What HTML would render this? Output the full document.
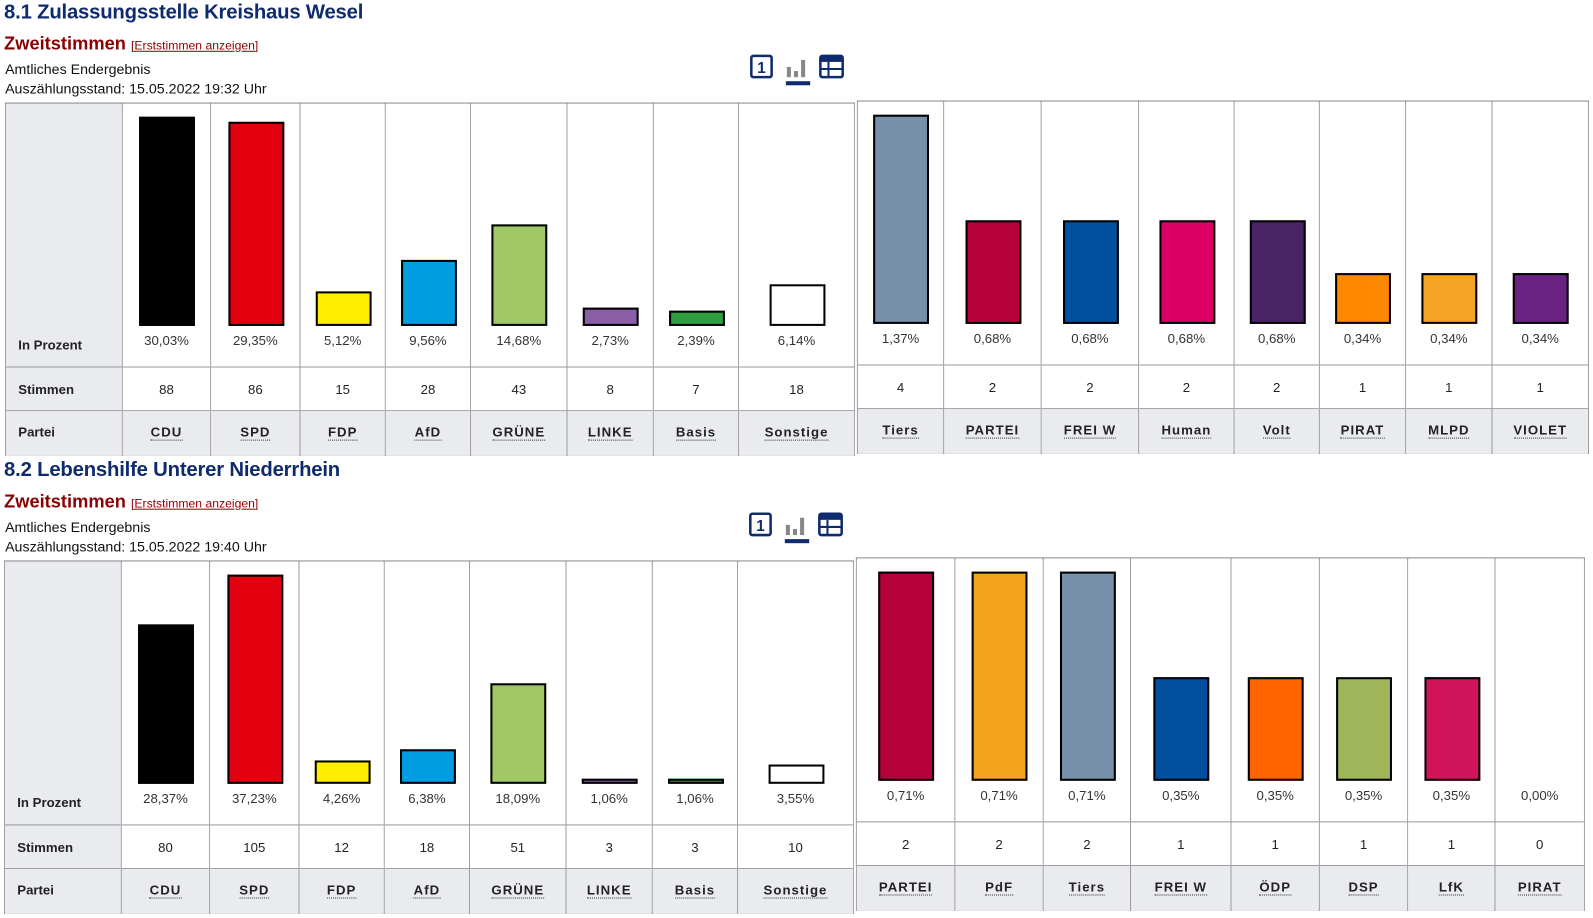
<!DOCTYPE html>
<html><head><meta charset="utf-8"><style>
*{margin:0;padding:0;box-sizing:border-box}
body{width:1593px;height:918px;background:#fff;position:relative;font-family:"Liberation Sans",Arial,sans-serif;overflow:hidden}
#w{position:absolute;left:0;top:0;width:1569px;height:904px;transform:scale(1.0153);transform-origin:0 0}
.a{position:absolute;white-space:nowrap}
h1{position:absolute;font-size:20px;font-weight:bold;color:#0f2b6e;left:4px;letter-spacing:-0.2px}
.zw{position:absolute;left:4px;font-size:18px;font-weight:bold;color:#8b0000}
.zw a{font-size:12px;font-weight:normal;color:#8b0000;text-decoration:underline}
.t{position:absolute;left:5px;font-size:14px;color:#111}
.c{position:absolute;border-left:1px solid #999;height:347px}
.c.f{border-left:none}
.p{position:relative;height:260px;border-bottom:1px solid #999;background:#fff}
.s{height:43px;line-height:43px;text-align:center;font-size:13px;color:#222;border-bottom:1px solid #999;background:#fff}
.n{height:44px;line-height:42px;text-align:center;font-size:13px;font-weight:bold;color:#222;background:#e9ebee;letter-spacing:1px}
.n span{border-bottom:1px dotted #333;padding-bottom:0}
.b{position:absolute;left:50%;margin-left:-27px;width:55px;border:2px solid #000}
.pc{position:absolute;left:0;right:0;text-align:center;top:226px;font-size:13px;color:#333}
.lab .p,.lab .s{background:#e9ebee}
.lab .p,.lab .s,.lab .n{text-align:left;padding-left:12px;font-weight:bold;font-size:13px;color:#222;letter-spacing:0}
.lab .p span{position:absolute;left:12px;top:230px}
.fr{position:absolute;border:1px solid #999;border-top:2px solid #888;height:348px}
</style></head><body><div id="w">

<h1 style="top:1px">8.1 Zulassungsstelle Kreishaus Wesel</h1>
<div class="zw" style="top:33px">Zweitstimmen <a>[Erststimmen anzeigen]</a></div>
<div class="t" style="top:60px">Amtliches Endergebnis</div>
<div class="t" style="top:79px">Auszählungsstand: 15.05.2022 19:32 Uhr</div>
<svg class="a" style="left:738px;top:53px" width="96" height="34">
<rect x="2" y="2" width="20" height="21" rx="2" fill="none" stroke="#0f2b6e" stroke-width="2.5"/><text x="12" y="19" font-size="15" font-weight="bold" text-anchor="middle" fill="#0f2b6e" font-family="Liberation Sans">1</text>
<rect x="37" y="13" width="4" height="10" fill="#888"/><rect x="44" y="17" width="4" height="6" fill="#888"/><rect x="51" y="6" width="4" height="17" fill="#888"/>
<rect x="36" y="27" width="24" height="4" fill="#0f2b6e"/>
<rect x="70" y="2" width="22" height="21" rx="2" fill="#fff" stroke="#0f2b6e" stroke-width="2.5"/><rect x="70" y="2" width="22" height="6" fill="#0f2b6e"/><line x1="70" y1="15" x2="92" y2="15" stroke="#0f2b6e" stroke-width="2"/><line x1="78" y1="8" x2="78" y2="23" stroke="#0f2b6e" stroke-width="2"/>
</svg>

<div class="fr" style="left:5px;top:101px;width:837px"></div>
<div class="c f lab" style="left:6px;top:102px;width:114px"><div class="p"><span>In Prozent</span></div><div class="s">Stimmen</div><div class="n">Partei</div></div>
<div class="c" style="left:120px;top:102px;width:87px"><div class="p"><div class="b" style="top:13px;height:206px;background:#000"></div><div class="pc">30,03%</div></div><div class="s">88</div><div class="n"><span>CDU</span></div></div>
<div class="c" style="left:207px;top:102px;width:88px"><div class="p"><div class="b" style="top:18px;height:201px;background:#e3000f"></div><div class="pc">29,35%</div></div><div class="s">86</div><div class="n"><span>SPD</span></div></div>
<div class="c" style="left:295px;top:102px;width:84px"><div class="p"><div class="b" style="top:185px;height:34px;background:#ffed00"></div><div class="pc">5,12%</div></div><div class="s">15</div><div class="n"><span>FDP</span></div></div>
<div class="c" style="left:379px;top:102px;width:84px"><div class="p"><div class="b" style="top:154px;height:65px;background:#009ee0"></div><div class="pc">9,56%</div></div><div class="s">28</div><div class="n"><span>AfD</span></div></div>
<div class="c" style="left:463px;top:102px;width:95px"><div class="p"><div class="b" style="top:119px;height:100px;background:#a0c864"></div><div class="pc">14,68%</div></div><div class="s">43</div><div class="n"><span>GRÜNE</span></div></div>
<div class="c" style="left:558px;top:102px;width:85px"><div class="p"><div class="b" style="top:201px;height:18px;background:#8b5ea8"></div><div class="pc">2,73%</div></div><div class="s">8</div><div class="n"><span>LINKE</span></div></div>
<div class="c" style="left:643px;top:102px;width:84px"><div class="p"><div class="b" style="top:204px;height:15px;background:#2e9e3e"></div><div class="pc">2,39%</div></div><div class="s">7</div><div class="n"><span>Basis</span></div></div>
<div class="c" style="left:727px;top:102px;width:114px"><div class="p"><div class="b" style="top:178px;height:41px;background:#fff"></div><div class="pc">6,14%</div></div><div class="s">18</div><div class="n"><span>Sonstige</span></div></div>

<div class="fr" style="left:844px;top:99px;width:721px"></div>
<div class="c f" style="left:845px;top:100px;width:84px"><div class="p"><div class="b" style="top:13px;height:206px;background:#7690aa"></div><div class="pc">1,37%</div></div><div class="s">4</div><div class="n"><span>Tiers</span></div></div>
<div class="c" style="left:929px;top:100px;width:96px"><div class="p"><div class="b" style="top:117px;height:102px;background:#b5003a"></div><div class="pc">0,68%</div></div><div class="s">2</div><div class="n"><span>PARTEI</span></div></div>
<div class="c" style="left:1025px;top:100px;width:96px"><div class="p"><div class="b" style="top:117px;height:102px;background:#0050a0"></div><div class="pc">0,68%</div></div><div class="s">2</div><div class="n"><span>FREI W</span></div></div>
<div class="c" style="left:1121px;top:100px;width:94px"><div class="p"><div class="b" style="top:117px;height:102px;background:#dc0064"></div><div class="pc">0,68%</div></div><div class="s">2</div><div class="n"><span>Human</span></div></div>
<div class="c" style="left:1215px;top:100px;width:84px"><div class="p"><div class="b" style="top:117px;height:102px;background:#4a2367"></div><div class="pc">0,68%</div></div><div class="s">2</div><div class="n"><span>Volt</span></div></div>
<div class="c" style="left:1299px;top:100px;width:85px"><div class="p"><div class="b" style="top:169px;height:50px;background:#ff8800"></div><div class="pc">0,34%</div></div><div class="s">1</div><div class="n"><span>PIRAT</span></div></div>
<div class="c" style="left:1384px;top:100px;width:85px"><div class="p"><div class="b" style="top:169px;height:50px;background:#f4a425"></div><div class="pc">0,34%</div></div><div class="s">1</div><div class="n"><span>MLPD</span></div></div>
<div class="c" style="left:1469px;top:100px;width:95px"><div class="p"><div class="b" style="top:169px;height:50px;background:#6a2382"></div><div class="pc">0,34%</div></div><div class="s">1</div><div class="n"><span>VIOLET</span></div></div>

<h1 style="top:452px">8.2 Lebenshilfe Unterer Niederrhein</h1>
<div class="zw" style="top:484px">Zweitstimmen <a>[Erststimmen anzeigen]</a></div>
<div class="t" style="top:511px">Amtliches Endergebnis</div>
<div class="t" style="top:530px">Auszählungsstand: 15.05.2022 19:40 Uhr</div>
<svg class="a" style="left:737px;top:504px" width="96" height="34">
<rect x="2" y="2" width="20" height="21" rx="2" fill="none" stroke="#0f2b6e" stroke-width="2.5"/><text x="12" y="19" font-size="15" font-weight="bold" text-anchor="middle" fill="#0f2b6e" font-family="Liberation Sans">1</text>
<rect x="37" y="13" width="4" height="10" fill="#888"/><rect x="44" y="17" width="4" height="6" fill="#888"/><rect x="51" y="6" width="4" height="17" fill="#888"/>
<rect x="36" y="27" width="24" height="4" fill="#0f2b6e"/>
<rect x="70" y="2" width="22" height="21" rx="2" fill="#fff" stroke="#0f2b6e" stroke-width="2.5"/><rect x="70" y="2" width="22" height="6" fill="#0f2b6e"/><line x1="70" y1="15" x2="92" y2="15" stroke="#0f2b6e" stroke-width="2"/><line x1="78" y1="8" x2="78" y2="23" stroke="#0f2b6e" stroke-width="2"/>
</svg>

<div class="fr" style="left:4px;top:552px;width:837px"></div>
<div class="c f lab" style="left:5px;top:553px;width:114px"><div class="p"><span>In Prozent</span></div><div class="s">Stimmen</div><div class="n">Partei</div></div>
<div class="c" style="left:119px;top:553px;width:87px"><div class="p"><div class="b" style="top:62px;height:157px;background:#000"></div><div class="pc">28,37%</div></div><div class="s">80</div><div class="n"><span>CDU</span></div></div>
<div class="c" style="left:206px;top:553px;width:88px"><div class="p"><div class="b" style="top:13px;height:206px;background:#e3000f"></div><div class="pc">37,23%</div></div><div class="s">105</div><div class="n"><span>SPD</span></div></div>
<div class="c" style="left:294px;top:553px;width:84px"><div class="p"><div class="b" style="top:196px;height:23px;background:#ffed00"></div><div class="pc">4,26%</div></div><div class="s">12</div><div class="n"><span>FDP</span></div></div>
<div class="c" style="left:378px;top:553px;width:84px"><div class="p"><div class="b" style="top:185px;height:34px;background:#009ee0"></div><div class="pc">6,38%</div></div><div class="s">18</div><div class="n"><span>AfD</span></div></div>
<div class="c" style="left:462px;top:553px;width:95px"><div class="p"><div class="b" style="top:120px;height:99px;background:#a0c864"></div><div class="pc">18,09%</div></div><div class="s">51</div><div class="n"><span>GRÜNE</span></div></div>
<div class="c" style="left:557px;top:553px;width:85px"><div class="p"><div class="b" style="top:214px;height:5px;background:#8b5ea8"></div><div class="pc">1,06%</div></div><div class="s">3</div><div class="n"><span>LINKE</span></div></div>
<div class="c" style="left:642px;top:553px;width:84px"><div class="p"><div class="b" style="top:214px;height:5px;background:#2e9e3e"></div><div class="pc">1,06%</div></div><div class="s">3</div><div class="n"><span>Basis</span></div></div>
<div class="c" style="left:726px;top:553px;width:114px"><div class="p"><div class="b" style="top:200px;height:19px;background:#fff"></div><div class="pc">3,55%</div></div><div class="s">10</div><div class="n"><span>Sonstige</span></div></div>

<div class="fr" style="left:843px;top:549px;width:718px"></div>
<div class="c f" style="left:844px;top:550px;width:96px"><div class="p"><div class="b" style="top:13px;height:206px;background:#b5003a"></div><div class="pc">0,71%</div></div><div class="s">2</div><div class="n"><span>PARTEI</span></div></div>
<div class="c" style="left:940px;top:550px;width:87px"><div class="p"><div class="b" style="top:13px;height:206px;background:#f4a41c"></div><div class="pc">0,71%</div></div><div class="s">2</div><div class="n"><span>PdF</span></div></div>
<div class="c" style="left:1027px;top:550px;width:86px"><div class="p"><div class="b" style="top:13px;height:206px;background:#7690aa"></div><div class="pc">0,71%</div></div><div class="s">2</div><div class="n"><span>Tiers</span></div></div>
<div class="c" style="left:1113px;top:550px;width:99px"><div class="p"><div class="b" style="top:117px;height:102px;background:#0050a0"></div><div class="pc">0,35%</div></div><div class="s">1</div><div class="n"><span>FREI W</span></div></div>
<div class="c" style="left:1212px;top:550px;width:87px"><div class="p"><div class="b" style="top:117px;height:102px;background:#ff6400"></div><div class="pc">0,35%</div></div><div class="s">1</div><div class="n"><span>ÖDP</span></div></div>
<div class="c" style="left:1299px;top:550px;width:87px"><div class="p"><div class="b" style="top:117px;height:102px;background:#a0b45a"></div><div class="pc">0,35%</div></div><div class="s">1</div><div class="n"><span>DSP</span></div></div>
<div class="c" style="left:1386px;top:550px;width:86px"><div class="p"><div class="b" style="top:117px;height:102px;background:#d2145a"></div><div class="pc">0,35%</div></div><div class="s">1</div><div class="n"><span>LfK</span></div></div>
<div class="c" style="left:1472px;top:550px;width:88px"><div class="p"><div class="pc">0,00%</div></div><div class="s">0</div><div class="n"><span>PIRAT</span></div></div>

</div></body></html>
